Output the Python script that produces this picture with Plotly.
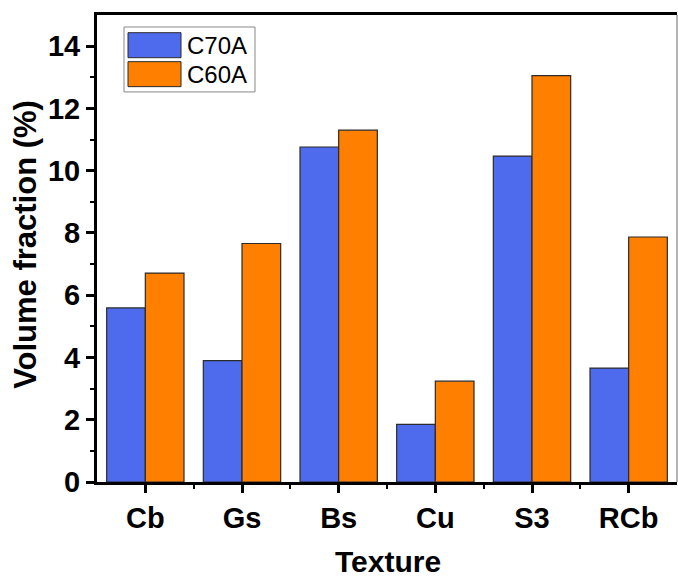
import plotly.graph_objects as go

# Texture components and their volume fractions (%)
textures = ["Cb", "Gs", "Bs", "Cu", "S3", "RCb"]
c70a = [5.59, 3.90, 10.76, 1.85, 10.47, 3.66]
c60a = [6.71, 7.66, 11.30, 3.24, 13.05, 7.87]
series_names = ["C70A", "C60A"]
series_colors = ["#4F6BED", "#FF7F00"]

FONT = "Liberation Sans, Arial, sans-serif"

# Plot-area geometry in pixels (used to place legend and titles in paper units)
L, R, T, B = 97, 677, 15, 482.3
PW, PH = R - L, B - T


def px(x):
    return (x - L) / PW


def py(y):
    return (B - y) / PH


fig = go.Figure()
for name, vals, col in zip(series_names, [c70a, c60a], series_colors):
    fig.add_trace(go.Bar(
        x=textures, y=vals, name=name,
        marker=dict(color=col, line=dict(color="#2b2b2b", width=1.2)),
        width=0.4, showlegend=False,
    ))

fig.update_layout(
    width=678, height=577,
    margin=dict(l=L, r=678 - R, t=T, b=577 - B),
    barmode="group", bargap=0.2, bargroupgap=0,
    plot_bgcolor="white", paper_bgcolor="white",
    font=dict(family=FONT, color="black"),
)

fig.update_xaxes(
    range=[-0.5, 5.5],
    showline=True, linecolor="black", linewidth=3, mirror=True,
    ticks="outside", ticklen=8, tickwidth=2.5, tickcolor="black",
    minor=dict(ticks="outside", ticklen=4, tickwidth=2, tickcolor="black",
               tickvals=[0.5, 1.5, 2.5, 3.5, 4.5]),
    tickfont=dict(size=29, family=FONT, weight="bold"),
    showgrid=False,
)

fig.update_yaxes(
    range=[0, 15],
    tickvals=[0, 2, 4, 6, 8, 10, 12, 14],
    showline=True, linecolor="black", linewidth=3, mirror=False,
    ticks="outside", ticklen=8, tickwidth=2.5, tickcolor="black",
    minor=dict(ticks="outside", ticklen=4, tickwidth=2, tickcolor="black",
               tickvals=[1, 3, 5, 7, 9, 11, 13]),
    tickfont=dict(size=29, family=FONT, weight="bold"),
    showgrid=False, zeroline=False,
)

# Axis titles
fig.add_annotation(xref="paper", yref="paper", x=px(26), y=py(245),
                   text="Volume fraction (%)", textangle=-90, showarrow=False,
                   xanchor="center", yanchor="middle",
                   font=dict(size=31, family=FONT, weight="bold", color="black"))
fig.add_annotation(xref="paper", yref="paper", x=px(388), y=py(562),
                   text="Texture", showarrow=False,
                   xanchor="center", yanchor="middle",
                   font=dict(size=30, family=FONT, weight="bold", color="black"))

# Thin right-hand frame edge
fig.add_shape(type="line", xref="paper", yref="paper", x0=1, x1=1, y0=0, y1=1,
              line=dict(color="#666666", width=1))

# Legend box with large swatches
fig.add_shape(type="rect", xref="paper", yref="paper",
              x0=px(124), x1=px(255), y0=py(92), y1=py(27),
              line=dict(color="#888888", width=1), fillcolor="white", layer="above")
for i, (name, col) in enumerate(zip(series_names, series_colors)):
    top = 32.7 + i * 29
    fig.add_shape(type="rect", xref="paper", yref="paper",
                  x0=px(128), x1=px(181), y0=py(top + 25), y1=py(top),
                  line=dict(color="#2b2b2b", width=1), fillcolor=col, layer="above")
    fig.add_annotation(xref="paper", yref="paper",
                       x=px(185), y=py(top + 12.5),
                       text=name, showarrow=False, xanchor="left", yanchor="middle",
                       font=dict(size=24, family=FONT, color="black"))

fig.write_html("out.html")
